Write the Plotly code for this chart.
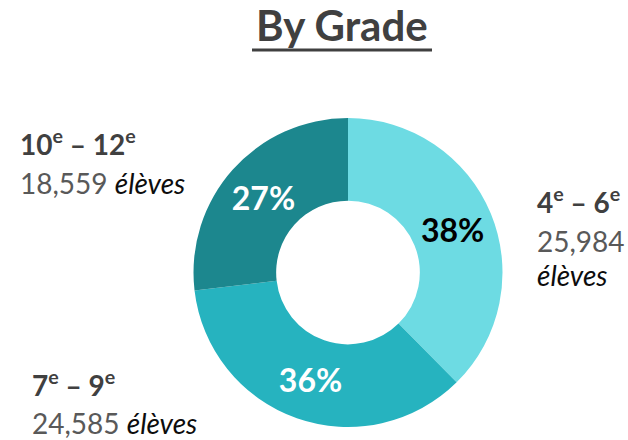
import plotly.graph_objects as go

grades = ["4<sup>e</sup> – 6<sup>e</sup>", "7<sup>e</sup> – 9<sup>e</sup>", "10<sup>e</sup> – 12<sup>e</sup>"]
students = [25984, 24585, 18559]
student_labels = ["25,984", "24,585", "18,559"]
unit = "élèves"
title = "By Grade"
colors = ["#6DDBE3", "#26B3BF", "#1C878E"]
pct_colors = ["#000000", "#FFFFFF", "#FFFFFF"]

W, H = 628, 440
FONT = "Lato"
LABEL_GRAY = "#404040"
NUM_GRAY = "#595959"

fig = go.Figure()
fig.add_trace(go.Pie(
    labels=grades,
    values=students,
    hole=0.465,
    sort=False,
    direction="clockwise",
    rotation=0,
    marker=dict(colors=colors, line=dict(width=0)),
    texttemplate="<b>%{percent:.0%}</b>",
    textposition="inside",
    insidetextorientation="horizontal",
    textfont=dict(family=FONT, size=32, color=pct_colors),
    showlegend=False,
    domain=dict(x=[193 / W, 503 / W], y=[1 - 427 / H, 1 - 118 / H]),
    hoverinfo="label+value+percent",
))


def line(text, x_px, y_px, size=28):
    fig.add_annotation(
        text=text, x=x_px / W, y=1 - y_px / H, xref="paper", yref="paper",
        xanchor="left", yanchor="middle", align="left", showarrow=False,
        font=dict(family=FONT, size=size, color=NUM_GRAY),
    )


def head(i):
    return f"<b><span style='color:{LABEL_GRAY}'>{grades[i]}</span></b>"


def num(i):
    return f"<span style='color:{NUM_GRAY}'>{student_labels[i]}</span>"


ital = f"<i><span style='color:#0D0D0D'>{unit}</span></i>"

# 10e - 12e (top-left)
line(head(2), 18, 143)
line(num(2) + " " + ital, 18, 183)
# 4e - 6e (right)
line(head(0), 535, 200)
line(num(0), 535, 241)
line(ital, 535, 275)
# 7e - 9e (bottom-left)
line(head(1), 30, 383)
line(num(1) + " " + ital, 30, 423)

fig.add_annotation(
    text=f"<b>{title}</b>", x=342 / W, y=1 - 25 / H, xref="paper", yref="paper",
    xanchor="center", yanchor="middle", showarrow=False,
    font=dict(family=FONT, size=42, color="#404040"),
)
fig.add_shape(type="line", xref="paper", yref="paper",
              x0=252 / W, x1=432 / W, y0=1 - 50 / H, y1=1 - 50 / H,
              line=dict(color="#404040", width=3))

fig.update_layout(
    width=W, height=H,
    margin=dict(l=0, r=0, t=0, b=0),
    paper_bgcolor="white", plot_bgcolor="white",
)

fig.write_html("out.html", config={"displayModeBar": False},
               post_script="document.body.style.margin='0';")
